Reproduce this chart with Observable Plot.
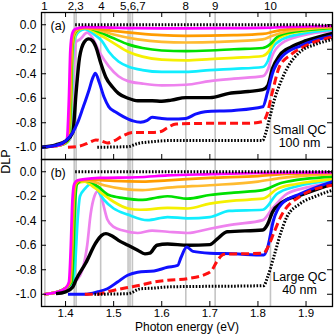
<!DOCTYPE html>
<html>
<head>
<meta charset="utf-8">
<script src="https://cdn.jsdelivr.net/npm/d3@7"></script>
<script src="https://cdn.jsdelivr.net/npm/@observablehq/plot@0.6"></script>
<style>
  html, body { margin: 0; padding: 0; background: #fff; }
</style>
</head>
<body>
<div id="chart"></div>
<script>
// ---------- axis / annotation data ----------
const xTicks = [1.4, 1.5, 1.6, 1.7, 1.8, 1.9];
const yTicks = [0, -0.2, -0.4, -0.6, -0.8, -1.0];
const refLinesE = [1.357, 1.418, 1.422, 1.473, 1.530, 1.534, 1.539, 1.650, 1.711, 1.826];
const topLabels = ["1", "2,3", "4", "5,6,7", "8", "9", "10"];
const topLabelsE = [1.356, 1.421, 1.4745, 1.540, 1.650, 1.711, 1.826];
const panels = ["a", "b"];
const panelTags = ["(a)", "(b)"];
const panelNotes = [["Small QC", "100 nm"], ["Large QC", "40 nm"]];
const xTitle = "Photon energy (eV)";
const yTitle = "DLP";

// ---------- panel (a) series: [photon energy (eV), DLP] ----------
const aRef = [[1.42, 0.0], [1.90, 0.0], [1.955, -0.008]];
const aMagenta = [[1.35,-1.0],[1.38,-0.99],[1.395,-0.97],[1.403,-0.93],[1.407,-0.6],[1.410,-0.2],[1.414,-0.07],[1.42,-0.035],[1.44,-0.02],[1.48,-0.022],[1.55,-0.028],[1.65,-0.03],[1.75,-0.028],[1.81,-0.026],[1.85,-0.02],[1.955,-0.01]];
const aOrange = [[1.35,-1.0],[1.38,-0.99],[1.396,-0.97],[1.405,-0.93],[1.409,-0.6],[1.412,-0.2],[1.416,-0.07],[1.423,-0.035],[1.44,-0.025],[1.47,-0.035],[1.50,-0.05],[1.55,-0.07],[1.60,-0.085],[1.65,-0.09],[1.75,-0.085],[1.81,-0.075],[1.84,-0.05],[1.88,-0.03],[1.955,-0.015]];
const aGold = [[1.35,-1.0],[1.38,-0.99],[1.397,-0.97],[1.406,-0.93],[1.410,-0.6],[1.413,-0.2],[1.417,-0.08],[1.425,-0.04],[1.44,-0.025],[1.47,-0.045],[1.50,-0.08],[1.55,-0.12],[1.60,-0.14],[1.65,-0.145],[1.72,-0.14],[1.81,-0.12],[1.83,-0.09],[1.86,-0.055],[1.90,-0.035],[1.955,-0.02]];
const aGreen = [[1.35,-1.0],[1.38,-0.99],[1.398,-0.97],[1.407,-0.93],[1.411,-0.6],[1.414,-0.2],[1.418,-0.08],[1.426,-0.04],[1.44,-0.02],[1.47,-0.06],[1.50,-0.11],[1.53,-0.16],[1.56,-0.19],[1.60,-0.21],[1.65,-0.215],[1.70,-0.21],[1.75,-0.2],[1.81,-0.19],[1.825,-0.16],[1.84,-0.1],[1.87,-0.06],[1.91,-0.04],[1.955,-0.025]];
const aYellow = [[1.35,-1.0],[1.38,-0.99],[1.399,-0.97],[1.408,-0.93],[1.412,-0.6],[1.415,-0.2],[1.419,-0.09],[1.428,-0.04],[1.44,-0.025],[1.47,-0.08],[1.50,-0.15],[1.53,-0.22],[1.56,-0.26],[1.60,-0.285],[1.65,-0.29],[1.70,-0.28],[1.75,-0.27],[1.81,-0.255],[1.822,-0.22],[1.835,-0.13],[1.86,-0.08],[1.90,-0.05],[1.955,-0.03]];
const aCyan = [[1.35,-1.0],[1.38,-0.99],[1.40,-0.97],[1.409,-0.93],[1.413,-0.6],[1.416,-0.2],[1.42,-0.1],[1.43,-0.05],[1.44,-0.035],[1.46,-0.08],[1.475,-0.13],[1.49,-0.22],[1.51,-0.30],[1.53,-0.34],[1.56,-0.37],[1.60,-0.385],[1.65,-0.385],[1.70,-0.37],[1.75,-0.36],[1.81,-0.345],[1.82,-0.3],[1.83,-0.19],[1.85,-0.12],[1.89,-0.075],[1.955,-0.04]];
const aViolet = [[1.35,-1.0],[1.38,-0.99],[1.40,-0.97],[1.41,-0.93],[1.414,-0.7],[1.418,-0.3],[1.422,-0.14],[1.43,-0.12],[1.445,-0.065],[1.455,-0.1],[1.47,-0.22],[1.49,-0.34],[1.51,-0.42],[1.53,-0.46],[1.56,-0.48],[1.60,-0.495],[1.65,-0.49],[1.70,-0.46],[1.75,-0.44],[1.81,-0.42],[1.82,-0.37],[1.83,-0.25],[1.85,-0.15],[1.89,-0.09],[1.955,-0.05]];
const aBlack = [[1.35,-1.0],[1.38,-0.98],[1.40,-0.95],[1.415,-0.88],[1.422,-0.55],[1.429,-0.27],[1.439,-0.14],[1.448,-0.115],[1.456,-0.13],[1.463,-0.18],[1.473,-0.31],[1.484,-0.43],[1.498,-0.51],[1.51,-0.56],[1.53,-0.60],[1.55,-0.62],[1.58,-0.62],[1.60,-0.625],[1.62,-0.615],[1.65,-0.595],[1.70,-0.595],[1.74,-0.56],[1.78,-0.545],[1.81,-0.53],[1.82,-0.50],[1.83,-0.36],[1.845,-0.25],[1.87,-0.18],[1.90,-0.13],[1.955,-0.07]];
const aBlue = [[1.35,-1.0],[1.38,-0.985],[1.40,-0.95],[1.415,-0.88],[1.425,-0.8],[1.436,-0.68],[1.449,-0.53],[1.456,-0.44],[1.462,-0.395],[1.47,-0.47],[1.48,-0.59],[1.49,-0.67],[1.505,-0.715],[1.52,-0.75],[1.54,-0.785],[1.556,-0.795],[1.57,-0.78],[1.58,-0.755],[1.60,-0.765],[1.62,-0.77],[1.65,-0.765],[1.67,-0.73],[1.69,-0.71],[1.75,-0.70],[1.81,-0.67],[1.82,-0.55],[1.83,-0.40],[1.85,-0.26],[1.89,-0.17],[1.955,-0.09]];
const aRed = [[1.405,-1.0],[1.43,-0.99],[1.45,-0.96],[1.463,-0.94],[1.475,-0.95],[1.487,-0.965],[1.50,-0.95],[1.52,-0.905],[1.54,-0.88],[1.58,-0.88],[1.60,-0.87],[1.61,-0.845],[1.63,-0.81],[1.70,-0.805],[1.78,-0.805],[1.81,-0.79],[1.818,-0.74],[1.83,-0.55],[1.845,-0.34],[1.87,-0.24],[1.90,-0.17],[1.955,-0.10]];
const aDot = [[1.466,-1.0],[1.53,-0.995],[1.55,-0.97],[1.58,-0.955],[1.62,-0.945],[1.81,-0.945],[1.815,-0.9],[1.825,-0.75],[1.835,-0.6],[1.846,-0.48],[1.86,-0.36],[1.888,-0.22],[1.92,-0.16],[1.955,-0.12]];

// ---------- panel (b) series ----------
const bRef = [[1.42, 0.0], [1.955, 0.0]];
const bMagenta = [[1.355,-1.0],[1.38,-0.985],[1.40,-0.95],[1.407,-0.9],[1.411,-0.6],[1.414,-0.25],[1.418,-0.1],[1.425,-0.07],[1.44,-0.06],[1.47,-0.05],[1.55,-0.045],[1.612,-0.03],[1.70,-0.02],[1.80,-0.01],[1.955,-0.005]];
const bOrange = [[1.355,-1.0],[1.38,-0.985],[1.40,-0.95],[1.409,-0.9],[1.413,-0.6],[1.416,-0.25],[1.42,-0.1],[1.43,-0.07],[1.45,-0.065],[1.50,-0.075],[1.56,-0.08],[1.612,-0.07],[1.70,-0.05],[1.80,-0.035],[1.85,-0.02],[1.955,-0.01]];
const bGold = [[1.355,-1.0],[1.38,-0.985],[1.40,-0.95],[1.41,-0.9],[1.414,-0.6],[1.417,-0.25],[1.421,-0.1],[1.43,-0.07],[1.45,-0.075],[1.48,-0.11],[1.52,-0.14],[1.56,-0.15],[1.612,-0.13],[1.70,-0.11],[1.80,-0.08],[1.85,-0.05],[1.955,-0.02]];
const bGreen = [[1.355,-1.0],[1.38,-0.985],[1.40,-0.95],[1.413,-0.9],[1.417,-0.6],[1.42,-0.25],[1.424,-0.1],[1.435,-0.07],[1.45,-0.08],[1.467,-0.12],[1.49,-0.19],[1.52,-0.215],[1.56,-0.23],[1.59,-0.21],[1.612,-0.2],[1.654,-0.22],[1.70,-0.19],[1.75,-0.17],[1.81,-0.15],[1.85,-0.09],[1.955,-0.04]];
const bYellow = [[1.355,-1.0],[1.38,-0.985],[1.40,-0.95],[1.411,-0.9],[1.415,-0.6],[1.418,-0.25],[1.422,-0.1],[1.44,-0.08],[1.46,-0.13],[1.48,-0.19],[1.50,-0.245],[1.53,-0.3],[1.556,-0.31],[1.612,-0.295],[1.654,-0.3],[1.70,-0.26],[1.75,-0.235],[1.81,-0.22],[1.84,-0.14],[1.88,-0.1],[1.955,-0.06]];
const bCyan = [[1.355,-1.0],[1.38,-0.985],[1.40,-0.95],[1.415,-0.9],[1.42,-0.75],[1.425,-0.4],[1.43,-0.2],[1.44,-0.14],[1.455,-0.095],[1.465,-0.14],[1.48,-0.23],[1.50,-0.3],[1.53,-0.35],[1.57,-0.395],[1.612,-0.37],[1.654,-0.38],[1.70,-0.37],[1.74,-0.32],[1.81,-0.31],[1.84,-0.18],[1.88,-0.12],[1.955,-0.07]];
const bViolet = [[1.355,-1.0],[1.38,-0.985],[1.40,-0.96],[1.42,-0.9],[1.435,-0.8],[1.445,-0.6],[1.452,-0.35],[1.46,-0.2],[1.467,-0.16],[1.475,-0.22],[1.487,-0.39],[1.50,-0.45],[1.52,-0.48],[1.55,-0.5],[1.58,-0.48],[1.612,-0.49],[1.654,-0.5],[1.70,-0.465],[1.75,-0.43],[1.81,-0.395],[1.83,-0.3],[1.86,-0.18],[1.90,-0.13],[1.955,-0.09]];
const bBlack = [[1.38,-0.995],[1.40,-0.98],[1.415,-0.94],[1.422,-0.88],[1.442,-0.745],[1.463,-0.58],[1.475,-0.52],[1.484,-0.505],[1.495,-0.52],[1.51,-0.56],[1.53,-0.6],[1.55,-0.64],[1.565,-0.67],[1.575,-0.665],[1.59,-0.6],[1.612,-0.59],[1.654,-0.6],[1.70,-0.595],[1.715,-0.55],[1.736,-0.49],[1.81,-0.475],[1.82,-0.43],[1.83,-0.33],[1.85,-0.25],[1.89,-0.19],[1.955,-0.10]];
const bBlue = [[1.405,-1.0],[1.44,-1.0],[1.467,-0.98],[1.487,-0.955],[1.508,-0.90],[1.529,-0.845],[1.55,-0.82],[1.584,-0.81],[1.612,-0.78],[1.633,-0.765],[1.64,-0.70],[1.652,-0.615],[1.665,-0.65],[1.70,-0.665],[1.75,-0.67],[1.812,-0.68],[1.82,-0.62],[1.832,-0.40],[1.85,-0.26],[1.888,-0.18],[1.955,-0.08]];
const bRed = [[1.44,-1.0],[1.467,-1.0],[1.487,-0.98],[1.529,-0.945],[1.556,-0.925],[1.584,-0.9],[1.612,-0.886],[1.654,-0.872],[1.695,-0.83],[1.705,-0.80],[1.712,-0.75],[1.73,-0.673],[1.76,-0.67],[1.812,-0.665],[1.82,-0.62],[1.833,-0.5],[1.847,-0.37],[1.888,-0.2],[1.955,-0.11]];
const bDot = [[1.46,-1.0],[1.53,-0.995],[1.556,-0.955],[1.584,-0.95],[1.612,-0.94],[1.812,-0.93],[1.82,-0.86],[1.833,-0.695],[1.847,-0.504],[1.86,-0.37],[1.888,-0.26],[1.92,-0.2],[1.955,-0.15]];

// ---------- styles ----------
const W = 334, H = 334;
const mL = 41, mR = 2, mT = 12, mB = 28;
const FH = (H - mT - mB) / 2;
const PW = W - mL - mR;

const solid = (w) => ({strokeWidth: w});
const styles = {
  violet: {stroke: "#ee82ee", ...solid(2.7)},
  cyan:   {stroke: "#10eeff", ...solid(2.7)},
  yellow: {stroke: "#f5f000", ...solid(2.7)},
  green:  {stroke: "#00e000", ...solid(2.7)},
  gold:   {stroke: "#ffbb30", ...solid(2.7)},
  orange: {stroke: "#ff9c00", ...solid(2.7)},
  magenta:{stroke: "#ff00ff", ...solid(2.7)},
  black:  {stroke: "#000000", ...solid(3.4)},
  blue:   {stroke: "#1010ff", ...solid(3.0)},
  red:    {stroke: "#ff1010", strokeWidth: 3.0, strokeDasharray: "8,4"},
  dot:    {stroke: "#000000", strokeWidth: 3.0, strokeDasharray: "1.6,1.6"}
};

const seriesA = [["violet", aViolet], ["cyan", aCyan], ["yellow", aYellow], ["green", aGreen], ["gold", aGold], ["orange", aOrange], ["magenta", aMagenta], ["black", aBlack], ["blue", aBlue], ["red", aRed], ["dot", aDot], ["dot", aRef]];
const seriesB = [["violet", bViolet], ["cyan", bCyan], ["yellow", bYellow], ["green", bGreen], ["gold", bGold], ["orange", bOrange], ["magenta", bMagenta], ["black", bBlack], ["blue", bBlue], ["red", bRed], ["dot", bDot], ["dot", bRef]];

const lineMarks = [];
[[panels[0], seriesA], [panels[1], seriesB]].forEach(([p, list]) => {
  list.forEach(([k, pts]) => {
    lineMarks.push(Plot.line(pts, {
      x: d => d[0], y: d => d[1], fy: () => p,
      curve: "monotone-x", strokeLinejoin: "round", strokeLinecap: "butt",
      ...styles[k]
    }));
  });
});

const chart = Plot.plot({
  width: W, height: H,
  marginLeft: mL, marginRight: mR, marginTop: mT, marginBottom: mB,
  style: {fontFamily: "'Liberation Sans', Arial, sans-serif", fontSize: "12px", background: "#fff", color: "#000"},
  x: {domain: [1.35, 1.955]},
  y: {domain: [-1.1, 0.1]},
  fy: {domain: panels, padding: 0, axis: null},
  marks: [
    Plot.ruleX(refLinesE, {x: d => d, stroke: "#c4c4c4", strokeWidth: 1.6}),
    ...lineMarks,
    Plot.frame({stroke: "#000", strokeWidth: 1.3}),
    // inward ticks
    Plot.tickX(xTicks, {x: d => d, insetTop: FH - 5, stroke: "#000", strokeWidth: 1}),
    Plot.tickX(xTicks, {x: d => d, fy: () => panels[0], insetBottom: FH - 5, stroke: "#000", strokeWidth: 1}),
    Plot.tickY(yTicks, {y: d => d, insetRight: PW - 5, stroke: "#000", strokeWidth: 1}),
    Plot.tickY(yTicks, {y: d => d, insetLeft: PW - 5, stroke: "#000", strokeWidth: 1}),
    Plot.axisY(yTicks, {anchor: "left", tickSize: 0, tickPadding: 5, tickFormat: d => d.toFixed(1), fontSize: 12, label: null}),
    Plot.axisX(xTicks, {anchor: "bottom", tickSize: 0, tickPadding: 2, tickFormat: d => d.toFixed(1), fontSize: 11.5, label: null}),
    // x title
    Plot.text([xTitle], {text: d => d, fy: () => panels[1], frameAnchor: "bottom", dy: 21, lineAnchor: "middle", textAnchor: "middle", fontSize: 12}),
    // top labels
    Plot.text(topLabels, {x: (d, i) => topLabelsE[i], text: d => d, fy: () => panels[0], frameAnchor: "top", dy: -6, lineAnchor: "middle", fontSize: 11.5}),
    // panel tags
    Plot.text(panelTags, {text: d => d, fy: (d, i) => panels[i], frameAnchor: "top-left", dx: 9, dy: 13, lineAnchor: "middle", textAnchor: "start", fontSize: 12.5}),
    // notes
    Plot.text(panelNotes, {text: d => d[0], fy: (d, i) => panels[i], frameAnchor: "bottom-right", dx: -33, dy: -30, lineAnchor: "middle", textAnchor: "middle", fontSize: 12.5}),
    Plot.text(panelNotes, {text: d => d[1], fy: (d, i) => panels[i], frameAnchor: "bottom-right", dx: -33, dy: -17, lineAnchor: "middle", textAnchor: "middle", fontSize: 12.5}),
    // y title
    Plot.text([yTitle], {text: d => d, fy: () => panels[0], frameAnchor: "bottom-left", dx: -36, dy: 2, rotate: -90, lineAnchor: "middle", textAnchor: "middle", fontSize: 12.5})
  ]
});
document.getElementById("chart").appendChild(chart);
</script>
</body>
</html>
